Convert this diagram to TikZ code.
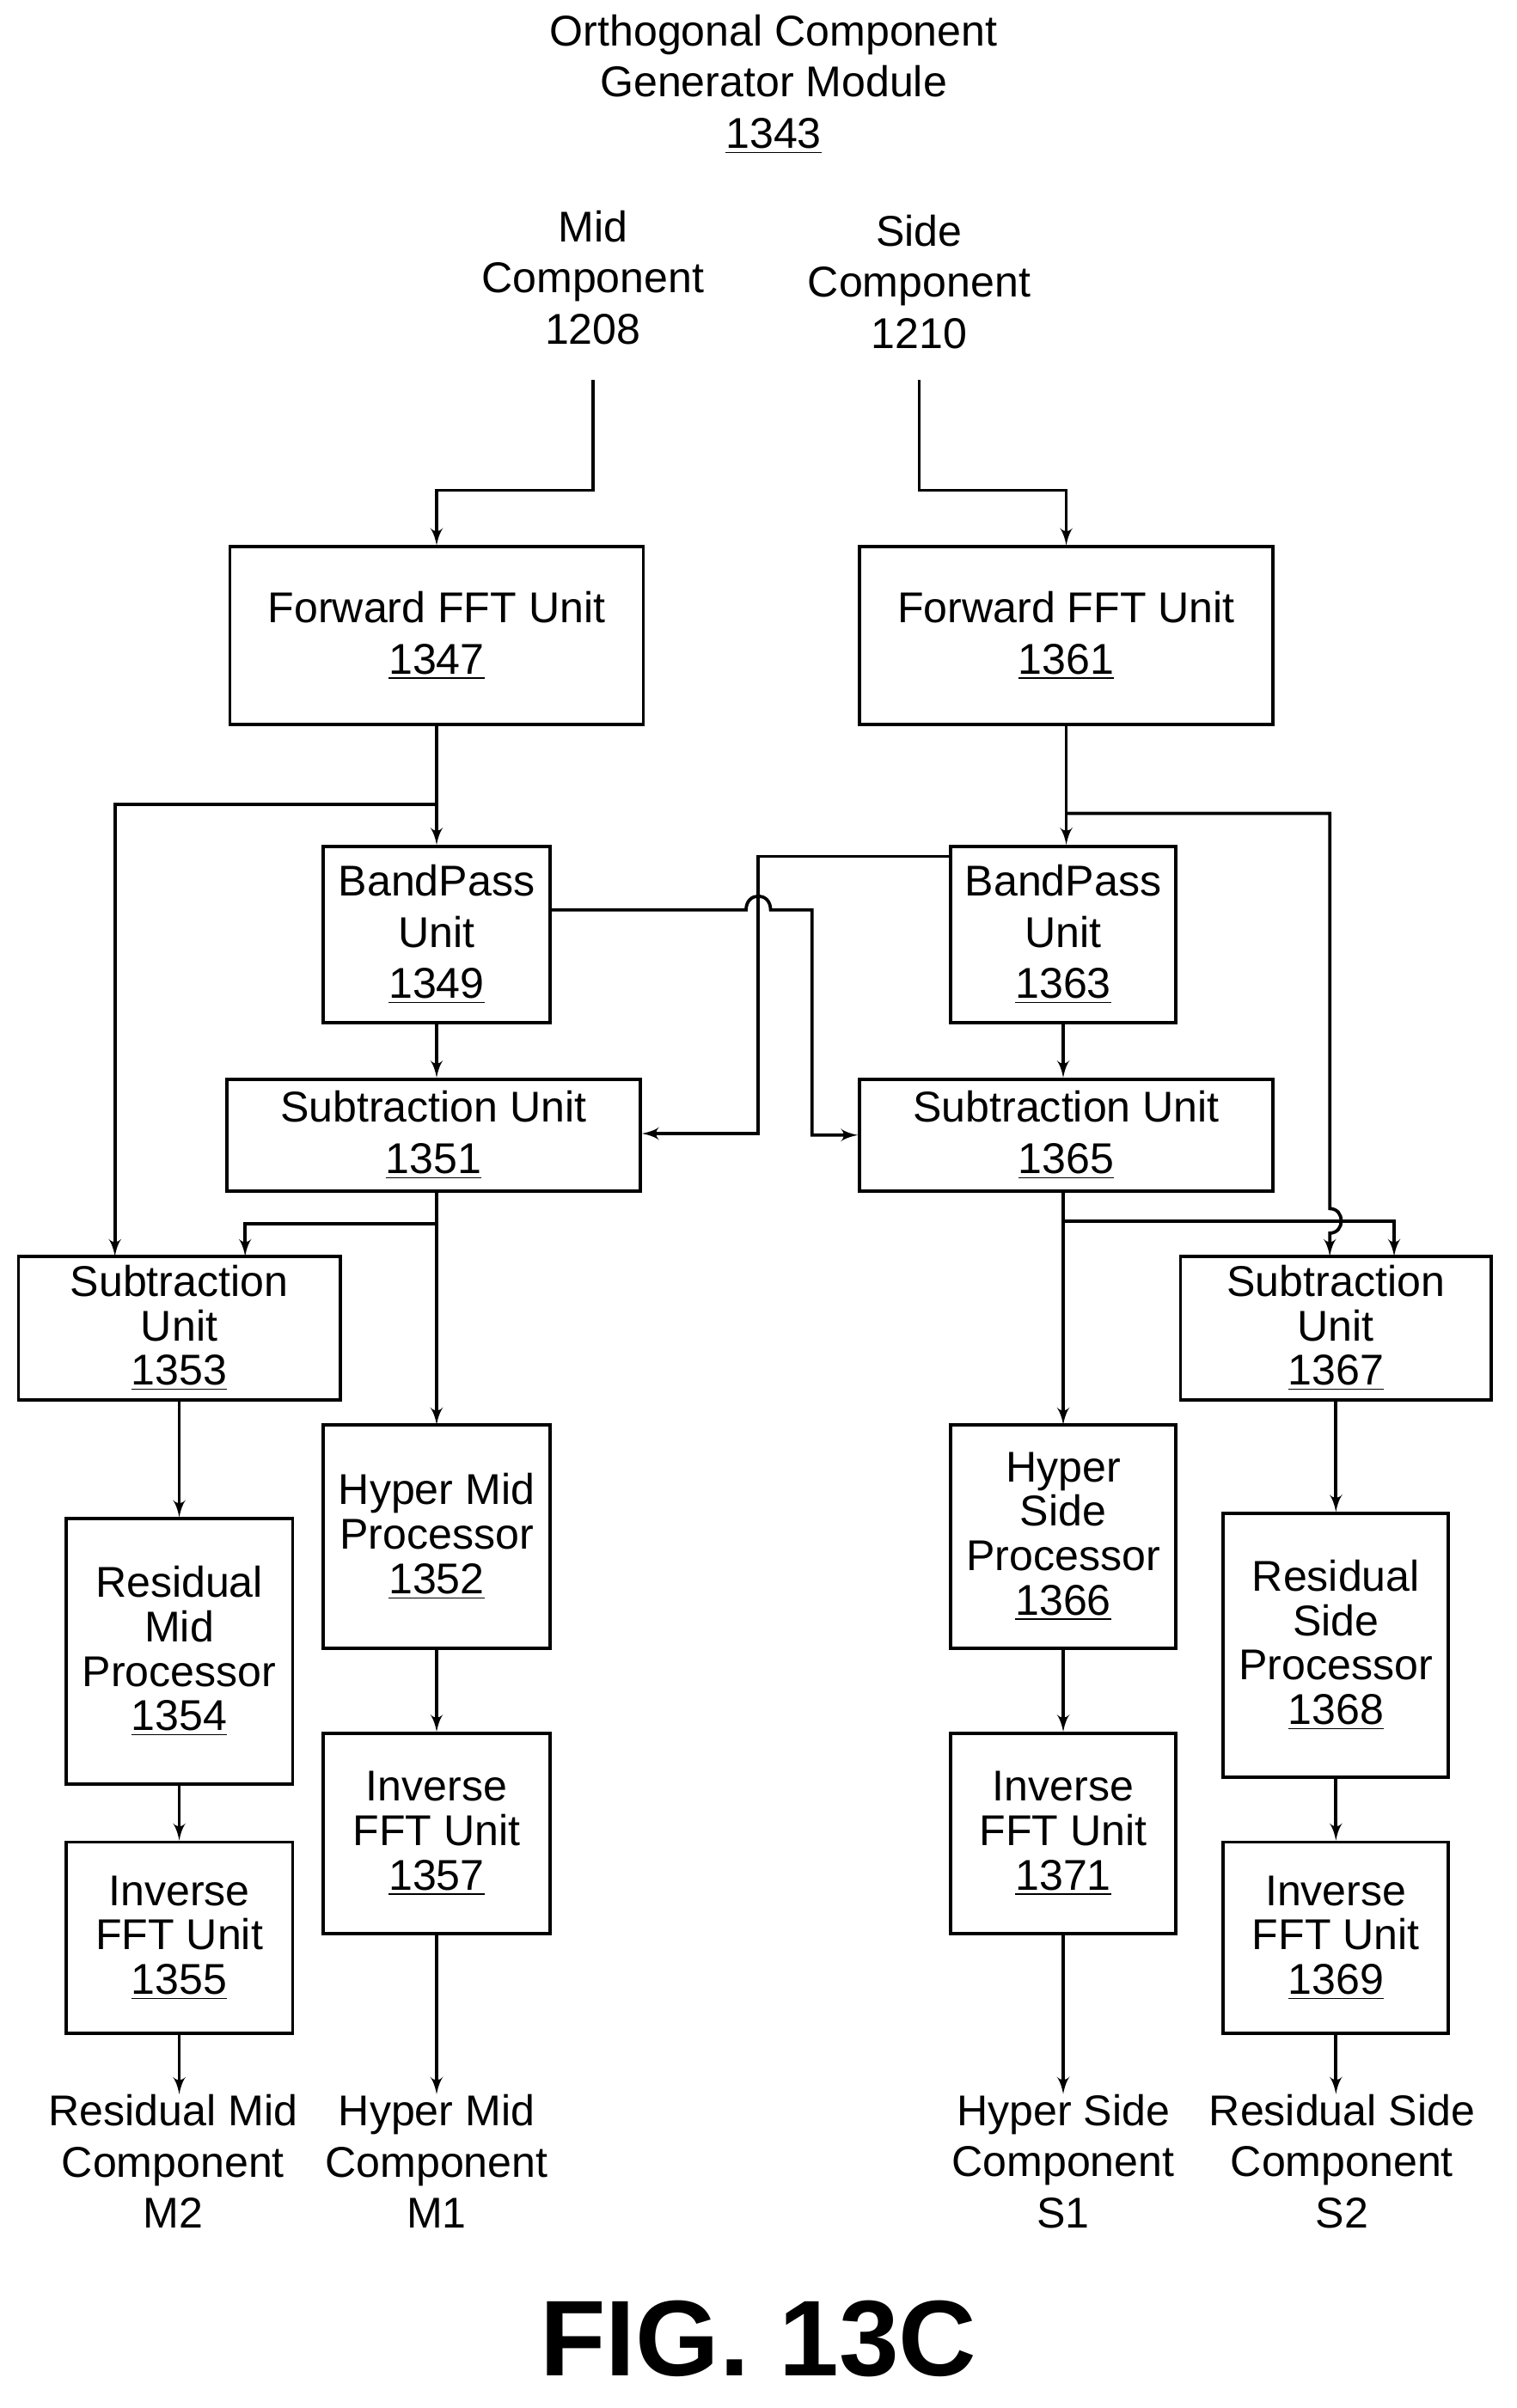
\documentclass[tikz,border=0pt]{standalone}
\usepackage{fontspec}
\setmainfont{Liberation Sans}
\usetikzlibrary{arrows, positioning, calc}
\tikzstyle{unit} = [draw, rectangle, line width=1.2pt, align=center, inner sep=0pt]
\tikzstyle{line} = [draw, line width=1.2pt, -latex']
\tikzstyle{txt} = [align=center, inner sep=0pt]

\begin{document}
\begin{tikzpicture}
    [x=0.02cm, y=-0.02cm, font=\fontsize{16}{19}\selectfont]
        \useasboundingbox (0,0) rectangle (990,1572);

        \node [txt] (title) at (505,55) {Orthogonal Component\\Generator Module\\\underline{1343}};
        \node [txt] (mid) at (387,181) {Mid\\Component\\1208};
        \node [txt] (side) at (600,184) {Side\\Component\\1210};
        \coordinate (midend) at (387,248);
        \coordinate (sideend) at (600,248);

        \node [unit, minimum width=5.4cm, minimum height=2.32cm] (fft1347) at (285,415) {Forward FFT Unit\\\underline{1347}};
        \node [unit, minimum width=5.4cm, minimum height=2.32cm] (fft1361) at (696,415) {Forward FFT Unit\\\underline{1361}};
        \node [unit, minimum width=2.96cm, minimum height=2.3cm] (bp1349) at (285,610) {BandPass\\Unit\\\underline{1349}};
        \node [unit, minimum width=2.94cm, minimum height=2.3cm] (bp1363) at (694,610) {BandPass\\Unit\\\underline{1363}};
        \node [unit, minimum width=5.4cm, minimum height=1.46cm] (sub1351) at (283,741) {Subtraction Unit\\\underline{1351}};
        \node [unit, minimum width=5.4cm, minimum height=1.46cm] (sub1365) at (696,741) {Subtraction Unit\\\underline{1365}};
        \node [unit, minimum width=4.2cm, minimum height=1.88cm, font=\fontsize{16}{16.5}\selectfont] (sub1353) at (117,867) {Subtraction\\Unit\\\underline{1353}};
        \node [unit, minimum width=4.06cm, minimum height=1.88cm, font=\fontsize{16}{16.5}\selectfont] (sub1367) at (872,867) {Subtraction\\Unit\\\underline{1367}};
        \node [unit, minimum width=2.96cm, minimum height=2.92cm, font=\fontsize{16}{16.5}\selectfont] (hyp1352) at (285,1003) {Hyper Mid\\Processor\\\underline{1352}};
        \node [unit, minimum width=2.96cm, minimum height=3.46cm, font=\fontsize{16}{16.5}\selectfont] (res1354) at (117,1078) {Residual\\Mid\\Processor\\\underline{1354}};
        \node [unit, minimum width=2.96cm, minimum height=2.62cm, font=\fontsize{16}{16.5}\selectfont] (ifft1357) at (285,1197) {Inverse\\FFT Unit\\\underline{1357}};
        \node [unit, minimum width=2.96cm, minimum height=2.5cm, font=\fontsize{16}{16.5}\selectfont] (ifft1355) at (117,1265) {Inverse\\FFT Unit\\\underline{1355}};
        \node [unit, minimum width=2.94cm, minimum height=2.92cm, font=\fontsize{16}{16.5}\selectfont] (hyp1366) at (694,1003) {Hyper\\Side\\Processor\\\underline{1366}};
        \node [unit, minimum width=2.94cm, minimum height=2.62cm, font=\fontsize{16}{16.5}\selectfont] (ifft1371) at (694,1197) {Inverse\\FFT Unit\\\underline{1371}};
        \node [unit, minimum width=2.94cm, minimum height=3.44cm, font=\fontsize{16}{16.5}\selectfont] (res1368) at (872,1074) {Residual\\Side\\Processor\\\underline{1368}};
        \node [unit, minimum width=2.94cm, minimum height=2.5cm, font=\fontsize{16}{16.5}\selectfont] (ifft1369) at (872,1265) {Inverse\\FFT Unit\\\underline{1369}};

        \node [txt] (outm2) at (113,1411) {Residual Mid\\Component\\M2};
        \node [txt] (outm1) at (285,1411) {Hyper Mid\\Component\\M1};
        \node [txt] (outs1) at (694,1411) {Hyper Side\\Component\\S1};
        \node [txt] (outs2) at (876,1411) {Residual Side\\Component\\S2};
        \node [txt, font=\fontsize{40}{44}\bfseries] (fig) at (495,1527) {FIG. 13C};

        % inputs
        \path [line] (midend) |- (336,320) -| (fft1347.north);
        \path [line] (sideend) |- (650,320) -| (fft1361.north);

        % mid branch
        \coordinate (midsplit) at (285,525);
        \path [line] (fft1347.south) -- (bp1349.north);
        \path [line] (midsplit) -| (75,820);
        \path [line] (bp1349.south) -- (bp1349.south |- sub1351.north);
        \path [line] (bp1349.east |- 0,594) -- (487,594) .. controls (487,582) and (503,582) .. (503,594) -| (530,741) -- (sub1365.west);
        \coordinate (m1split) at (285,799);
        \path [line] (sub1351.south -| m1split) -- (285,930);
        \path [line] (m1split) -| (160,820);
        \path [line] (sub1353.south) -- (res1354.north);
        \path [line] (res1354.south) -- (ifft1355.north);
        \path [line] (ifft1355.south) -- (outm2.north -| ifft1355.south);
        \path [line] (hyp1352.south) -- (ifft1357.north);
        \path [line] (ifft1357.south) -- (outm1.north);

        % side branch
        \coordinate (sidesplit) at (696,531);
        \path [line] (fft1361.south) -- (bp1363.north -| fft1361.south);
        \path [line] (sidesplit) -| (868,789) .. controls (878,789) and (878,805) .. (868,805) -- (868,820);
        \path [line] (bp1363.south) -- (bp1363.south |- sub1365.north);
        \path [line] (bp1363.west |- 0,559) -| (495,740) -- (sub1351.east |- 0,740);
        \coordinate (s1split) at (694,797);
        \path [line] (sub1365.south -| s1split) -- (694,930);
        \path [line] (s1split) -| (910,820);
        \path [line] (hyp1366.south) -- (ifft1371.north);
        \path [line] (ifft1371.south) -- (outs1.north);
        \path [line] (sub1367.south) -- (res1368.north);
        \path [line] (res1368.south) -- (ifft1369.north);
        \path [line] (ifft1369.south) -- (ifft1369.south |- outs2.north);
    \end{tikzpicture}
\end{document}
